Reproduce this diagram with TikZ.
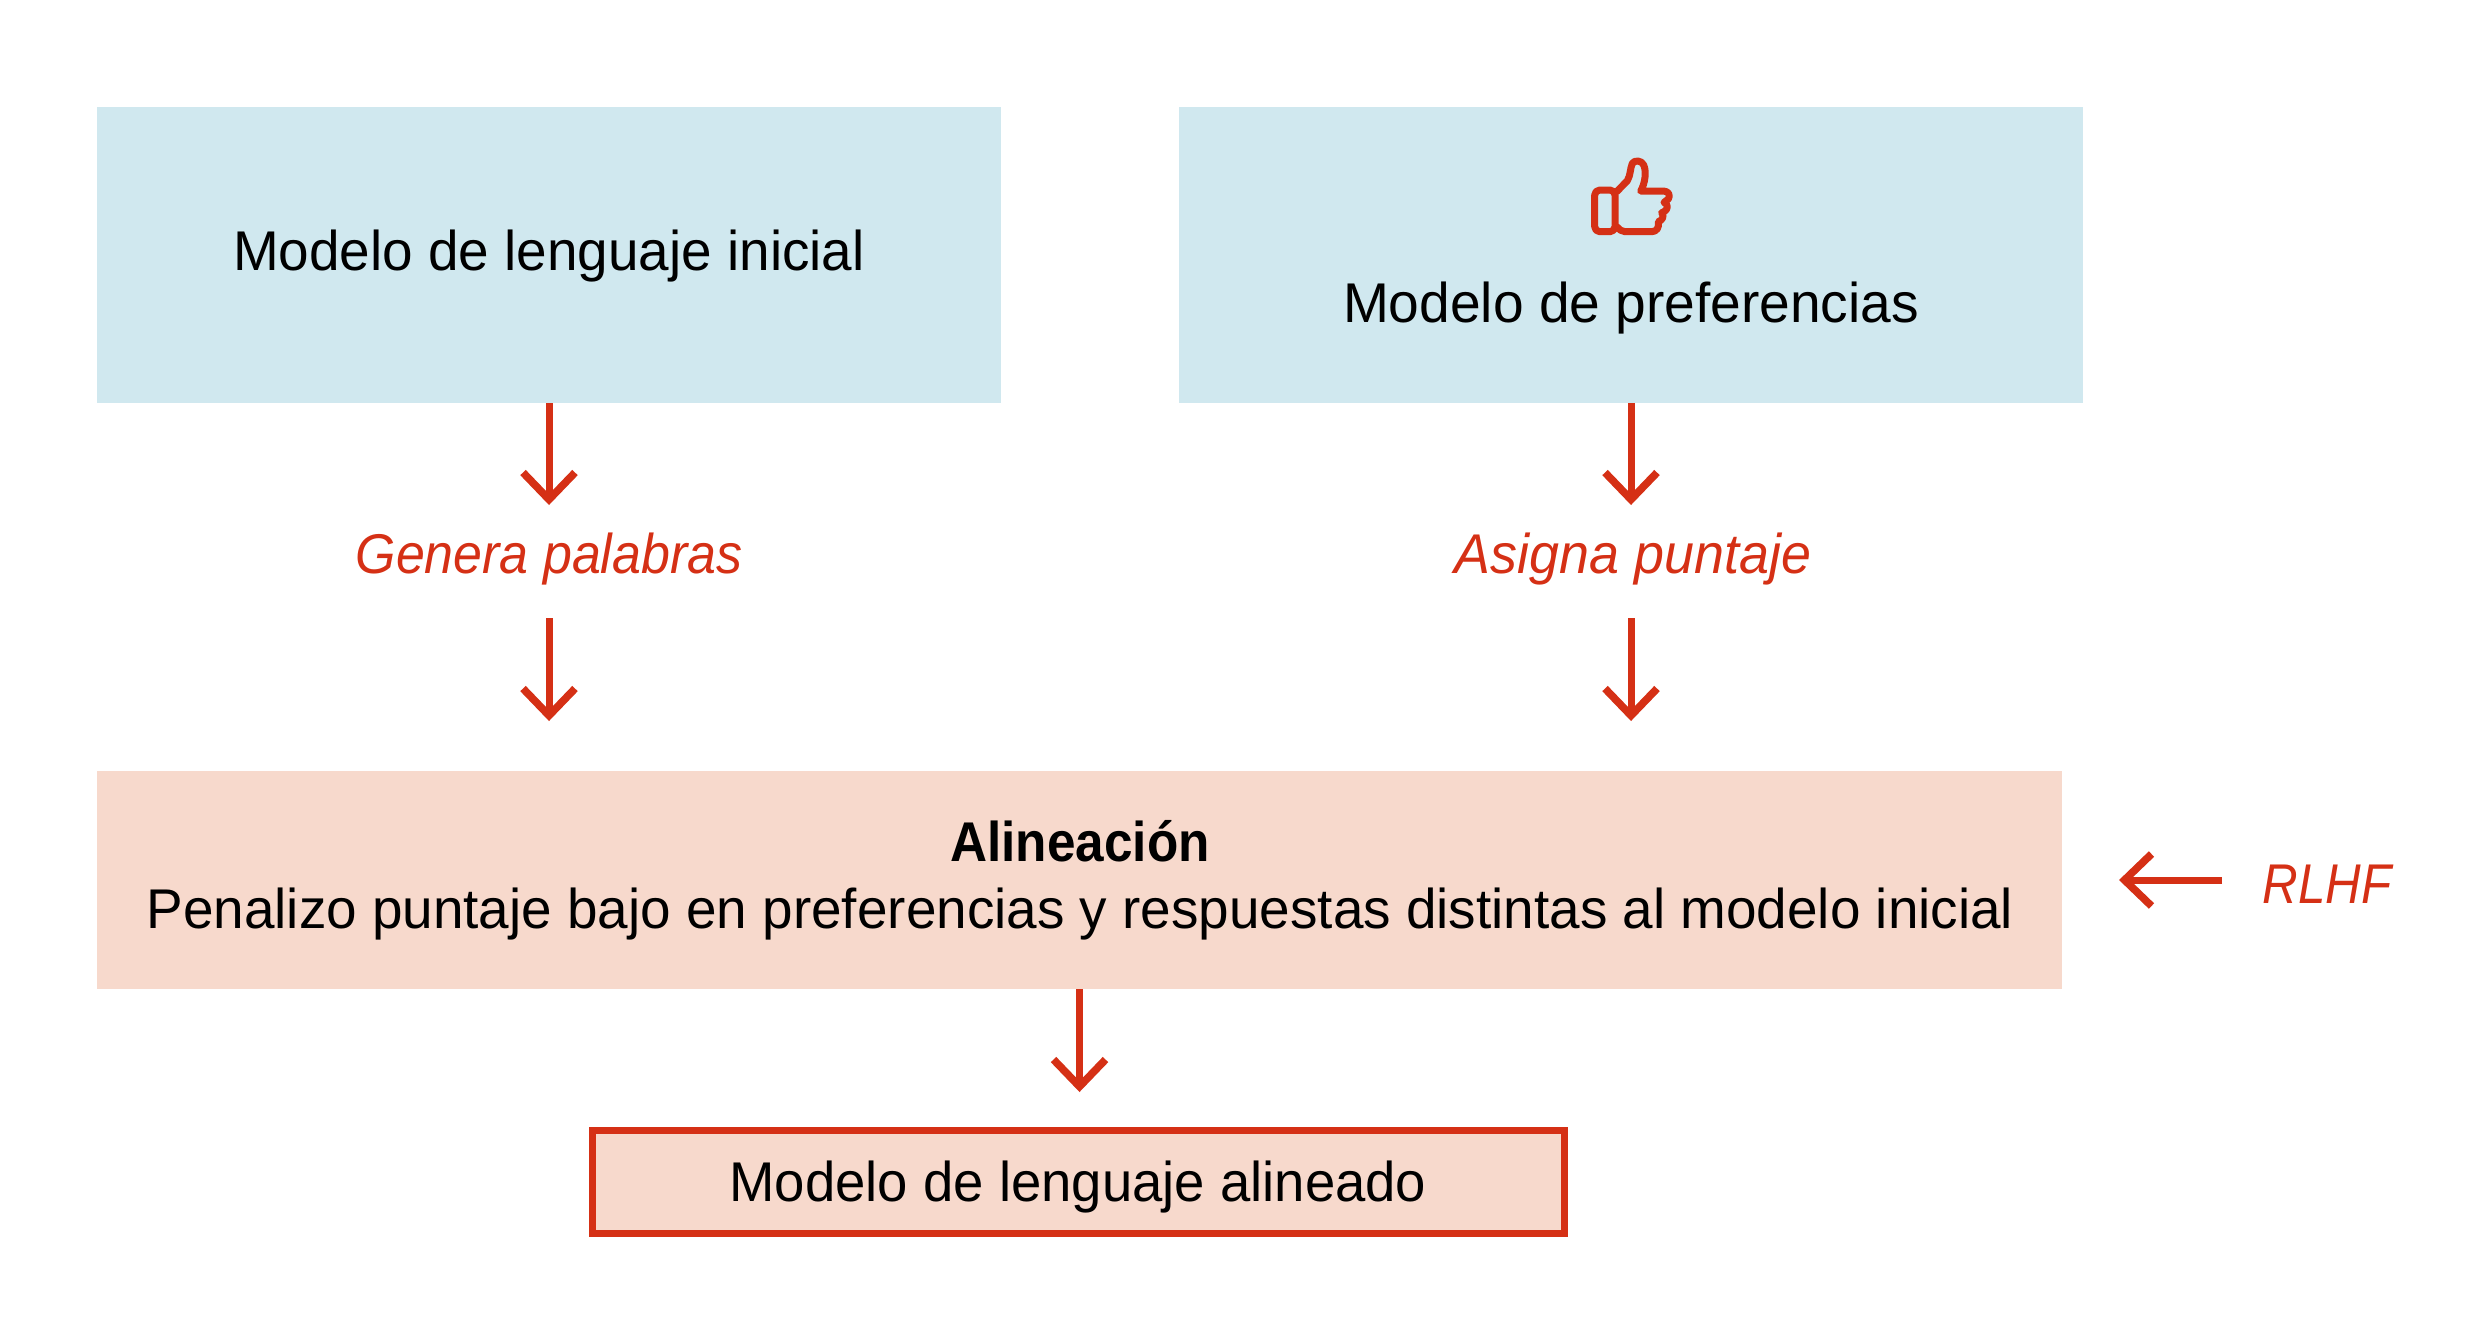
\documentclass[tikz,border=0pt]{standalone}
\usepackage{fontspec}
\usepackage{graphicx}
\setmainfont{Liberation Sans}
\usetikzlibrary{arrows.meta}
\definecolor{boxblue}{HTML}{D0E8EF}
\definecolor{boxpeach}{HTML}{F7D9CC}
\definecolor{accent}{HTML}{D53015}
\newcommand{\sx}[2]{\scalebox{#1}[1]{#2}}
\tikzset{
  bluebox/.style={fill=boxblue,draw=none,inner sep=0pt,minimum width=452pt,minimum height=148pt},
  peachbox/.style={fill=boxpeach,draw=none,inner sep=0pt,minimum width=982.5pt,minimum height=109pt},
  finalbox/.style={fill=boxpeach,draw=accent,line width=3.5pt,inner sep=0pt,minimum width=486pt,minimum height=51.5pt,line join=miter},
  txt/.style={anchor=base,inner sep=0pt,font=\fontsize{28}{32}\selectfont,text=black},
  redtxt/.style={anchor=base,inner sep=0pt,font=\fontsize{28}{32}\selectfont\itshape,text=accent},
  flow/.style={draw=accent,line width=3.5pt,-{Straight Barb[length=13.5pt,width=26pt,line width=3.8pt,line join=miter,line cap=butt]}},
  thumb/.style={draw=accent,line width=3.5pt,line join=round,line cap=round}
}
\begin{document}
\begin{tikzpicture}[x=0.5pt,y=-0.5pt]
\useasboundingbox (0,0) rectangle (2492,1341);
\node[bluebox] (b1) at (549,255) {};
\node[bluebox] (b2) at (1631,255) {};
\node[peachbox] (al) at (1079.5,880) {};
\node[finalbox] (fin) at (1078.5,1182) {};
\node[txt] (t1) at (549,270) {\sx{.98}{Modelo de lenguaje inicial}};
\node[txt] (t2) at (1631,322) {\sx{.984}{Modelo de preferencias}};
\node[redtxt] (g) at (549,573) {\sx{.927}{Genera palabras}};
\node[redtxt] (a) at (1633,573) {\sx{.961}{Asigna puntaje}};
\node[txt,font=\fontsize{28}{32}\selectfont\bfseries] (t3) at (1080,861) {\sx{.916}{Alineación}};
\node[txt] (t4) at (1080,928) {\sx{.98}{Penalizo puntaje bajo en preferencias y respuestas distintas al modelo inicial}};
\node[redtxt] (r) at (2327,903) {\sx{.88}{RLHF}};
\node[txt] (t5) at (1078,1201) {\sx{.973}{Modelo de lenguaje alineado}};
\coordinate (e1) at (549,505);
\coordinate (s2) at (549,618);
\coordinate (e2) at (549,721);
\coordinate (e3) at (1631,505);
\coordinate (s4) at (1631,618);
\coordinate (e4) at (1631,721);
\coordinate (e5) at (1079.5,1092);
\coordinate (s6) at (2222,880);
\coordinate (e6) at (2119,880);
\draw[flow] (b1.south) -- (e1);
\draw[flow] (s2) -- (e2);
\draw[flow] (b2.south) -- (e3);
\draw[flow] (s4) -- (e4);
\draw[flow] (al.south) -- (e5);
\draw[flow] (s6) -- (e6);
\begin{scope}[shift={(1550,130)},x=0.1667pt,y=-0.1667pt]
\draw[thumb,rounded corners=2.5pt] (134,180) rectangle (195,305);
\draw[thumb] (200,185) -- (232,152) .. controls (242,135) and (240,115) .. (247,100)
  .. controls (252,90) and (275,90) .. (281,105) .. controls (290,125) and (285,160) .. (272,183)
  -- (340,183) .. controls (355,183) and (362,195) .. (355,207) -- (342,217)
  .. controls (355,222) and (355,238) .. (342,245) -- (335,248)
  .. controls (345,258) and (335,272) .. (325,275) .. controls (328,292) and (320,305) .. (305,305)
  -- (225,305) .. controls (215,305) and (207,298) .. (200,290);
\end{scope}
\end{tikzpicture}
\end{document}
